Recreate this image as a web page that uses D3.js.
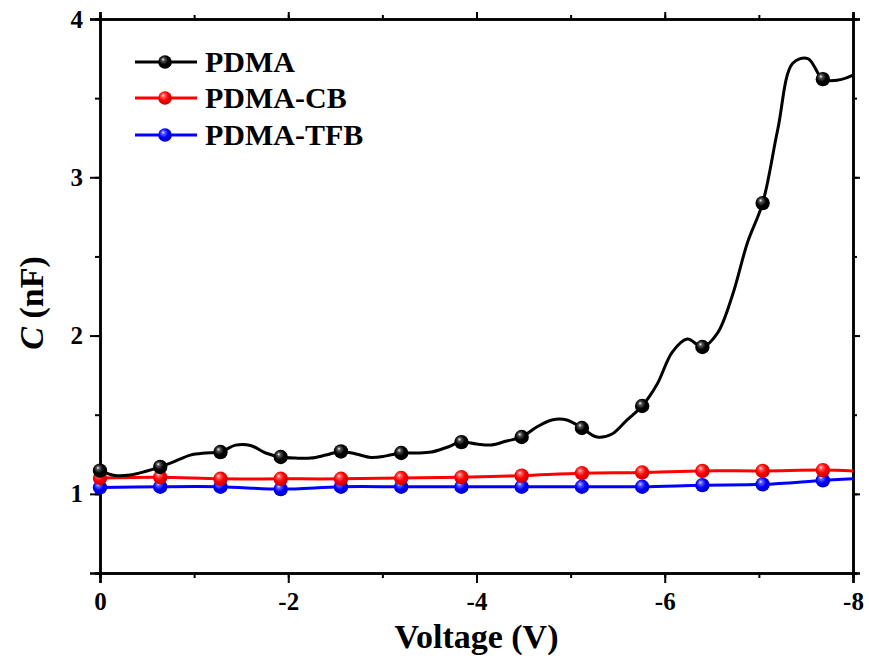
<!DOCTYPE html>
<html><head><meta charset="utf-8">
<script src="https://cdn.jsdelivr.net/npm/d3@7"></script>
<style>body{margin:0;background:#fff}svg{display:block}</style>
</head><body>
<svg id="c" width="869" height="663"></svg>
<script>
// ---- data ----
const voltsPDMA = [0,-0.16,-0.32,-0.48,-0.64,-0.8,-0.96,-1.12,-1.28,-1.44,-1.6,-1.76,-1.92,-2.08,-2.24,-2.4,-2.56,-2.72,-2.88,-3.04,-3.2,-3.36,-3.52,-3.68,-3.84,-4.0,-4.16,-4.32,-4.48,-4.64,-4.8,-4.96,-5.12,-5.28,-5.44,-5.6,-5.76,-5.92,-6.08,-6.24,-6.4,-6.56,-6.72,-6.88,-7.04,-7.2,-7.36,-7.52,-7.68,-7.84,-8.0];
const capPDMA  = [1.147,1.116,1.119,1.141,1.17,1.207,1.245,1.258,1.264,1.308,1.306,1.258,1.233,1.226,1.226,1.245,1.268,1.252,1.23,1.24,1.258,1.258,1.264,1.293,1.327,1.315,1.309,1.334,1.359,1.422,1.467,1.467,1.416,1.359,1.378,1.467,1.555,1.694,1.896,1.978,1.928,2.016,2.256,2.59,2.837,3.30,3.72,3.75,3.62,3.614,3.646];
const voltsCB = [0,-0.64,-1.28,-1.92,-2.56,-3.2,-3.84,-4.48,-5.12,-5.76,-6.4,-7.04,-7.68,-8.0];
const capCB   = [1.10,1.105,1.095,1.095,1.095,1.10,1.105,1.115,1.13,1.135,1.145,1.145,1.15,1.145];
const voltsTFB = [0,-0.64,-1.28,-1.92,-2.56,-3.2,-3.84,-4.48,-5.12,-5.76,-6.4,-7.04,-7.68,-8.0];
const capTFB   = [1.04,1.045,1.045,1.03,1.045,1.045,1.045,1.045,1.045,1.045,1.055,1.06,1.085,1.095];
const seriesNames = ["PDMA","PDMA-CB","PDMA-TFB"];
const xTickValues = [0,-2,-4,-6,-8];
const yTickValues = [1,2,3,4];

const series = [
  {name: seriesNames[0], color:"#000000", hi:"#ffffff", mid:"#555555", x: voltsPDMA, y: capPDMA, markEvery:4, markCount:13},
  {name: seriesNames[1], color:"#ff0000", hi:"#ffe0e0", mid:"#ff6060", x: voltsCB, y: capCB, markEvery:1, markCount:13},
  {name: seriesNames[2], color:"#0000ff", hi:"#e0e0ff", mid:"#6060ff", x: voltsTFB, y: capTFB, markEvery:1, markCount:13}
];

const svg = d3.select("#c");
const L=100, R=853, T=19, B=573;
const x = d3.scaleLinear().domain([0,-8]).range([L,R]);
const y = d3.scaleLinear().domain([0.5,4]).range([B,T]);

// gradients for spheres
const defs = svg.append("defs");
series.forEach((s,i)=>{
  const g = defs.append("radialGradient").attr("id","g"+i)
    .attr("cx","0.45").attr("cy","0.42").attr("r","0.6").attr("fx","0.35").attr("fy","0.3");
  g.append("stop").attr("offset","0").attr("stop-color",s.hi);
  g.append("stop").attr("offset","0.2").attr("stop-color",s.mid);
  g.append("stop").attr("offset","0.55").attr("stop-color",s.color);
  g.append("stop").attr("offset","1").attr("stop-color",d3.color(s.color).darker(0.8));
});

const font = "'Liberation Serif','Times New Roman',Times,serif";
const fmt = d=> d===0 ? "0" : "-" + Math.abs(d);

// axes
const minorX = d3.range(0,-8.01,-1);
const minorY = d3.range(0.5,4.01,0.5);
svg.append("g").attr("transform",`translate(0,${B})`)
  .call(d3.axisBottom(x).tickValues(minorX).tickSize(5).tickFormat(""));
svg.append("g").attr("transform",`translate(0,${B})`)
  .call(d3.axisBottom(x).tickValues(xTickValues).tickSize(10).tickPadding(9).tickFormat(fmt));
svg.append("g").attr("transform",`translate(0,${T})`)
  .call(d3.axisTop(x).tickValues(minorX).tickSize(4).tickFormat(""));
svg.append("g").attr("transform",`translate(0,${T})`)
  .call(d3.axisTop(x).tickValues(xTickValues).tickSize(7).tickFormat(""));
svg.append("g").attr("transform",`translate(${L},0)`)
  .call(d3.axisLeft(y).tickValues(minorY).tickSize(5).tickFormat(""));
svg.append("g").attr("transform",`translate(${L},0)`)
  .call(d3.axisLeft(y).tickValues(yTickValues).tickSize(10).tickPadding(7).tickFormat(d3.format("d")));
svg.append("g").attr("transform",`translate(${R},0)`)
  .call(d3.axisRight(y).tickValues(minorY).tickSize(4).tickFormat(""));
svg.append("g").attr("transform",`translate(${R},0)`)
  .call(d3.axisRight(y).tickValues(yTickValues).tickSize(7).tickFormat(""));
svg.selectAll(".domain").attr("stroke","#000").attr("stroke-width",2.5);
svg.selectAll(".tick line").attr("stroke","#000").attr("stroke-width",2);
svg.selectAll(".tick text").attr("font-family",font).attr("font-weight","bold")
  .attr("font-size",25).attr("fill","#000");

// axis titles
svg.append("text").attr("x",(L+R)/2).attr("y",648).attr("text-anchor","middle")
  .attr("font-family",font).attr("font-weight","bold").attr("font-size",34).text("Voltage (V)");
const yt = svg.append("text").attr("transform",`translate(43,${(T+B)/2+7}) rotate(-90)`)
  .attr("text-anchor","middle").attr("font-family",font).attr("font-weight","bold").attr("font-size",34);
yt.append("tspan").attr("font-style","italic").text("C");
yt.append("tspan").text(" (nF)");

// lines
const line = d3.line().x(d=>x(d[0])).y(d=>y(d[1])).curve(d3.curveCatmullRom.alpha(0.5));
const clip = defs.append("clipPath").attr("id","clip");
clip.append("rect").attr("x",L).attr("y",T).attr("width",R-L).attr("height",B-T);
[2,1,0].forEach(i=>{
  const s = series[i];
  const pts = s.x.map((v,k)=>[v,s.y[k]]);
  svg.append("path").datum(pts).attr("d",line).attr("fill","none")
    .attr("stroke",s.color).attr("stroke-width",3).attr("clip-path","url(#clip)");
  const marks = pts.filter((p,k)=>k%s.markEvery===0).slice(0,s.markCount);
  svg.append("g").selectAll("circle").data(marks).join("circle")
    .attr("cx",d=>x(d[0])).attr("cy",d=>y(d[1])).attr("r",7.2)
    .attr("fill",`url(#g${i})`);
});

// legend
const legY = [62,98,135];
series.forEach((s,i)=>{
  const g = svg.append("g");
  g.append("line").attr("x1",135).attr("x2",197).attr("y1",legY[i]).attr("y2",legY[i])
    .attr("stroke",s.color).attr("stroke-width",3);
  g.append("circle").attr("cx",165).attr("cy",legY[i]).attr("r",6.8).attr("fill",`url(#g${i})`);
  g.append("text").attr("x",205).attr("y",legY[i]+10).attr("font-family",font)
    .attr("font-weight","bold").attr("font-size",30).text(s.name);
});
</script>
</body></html>
